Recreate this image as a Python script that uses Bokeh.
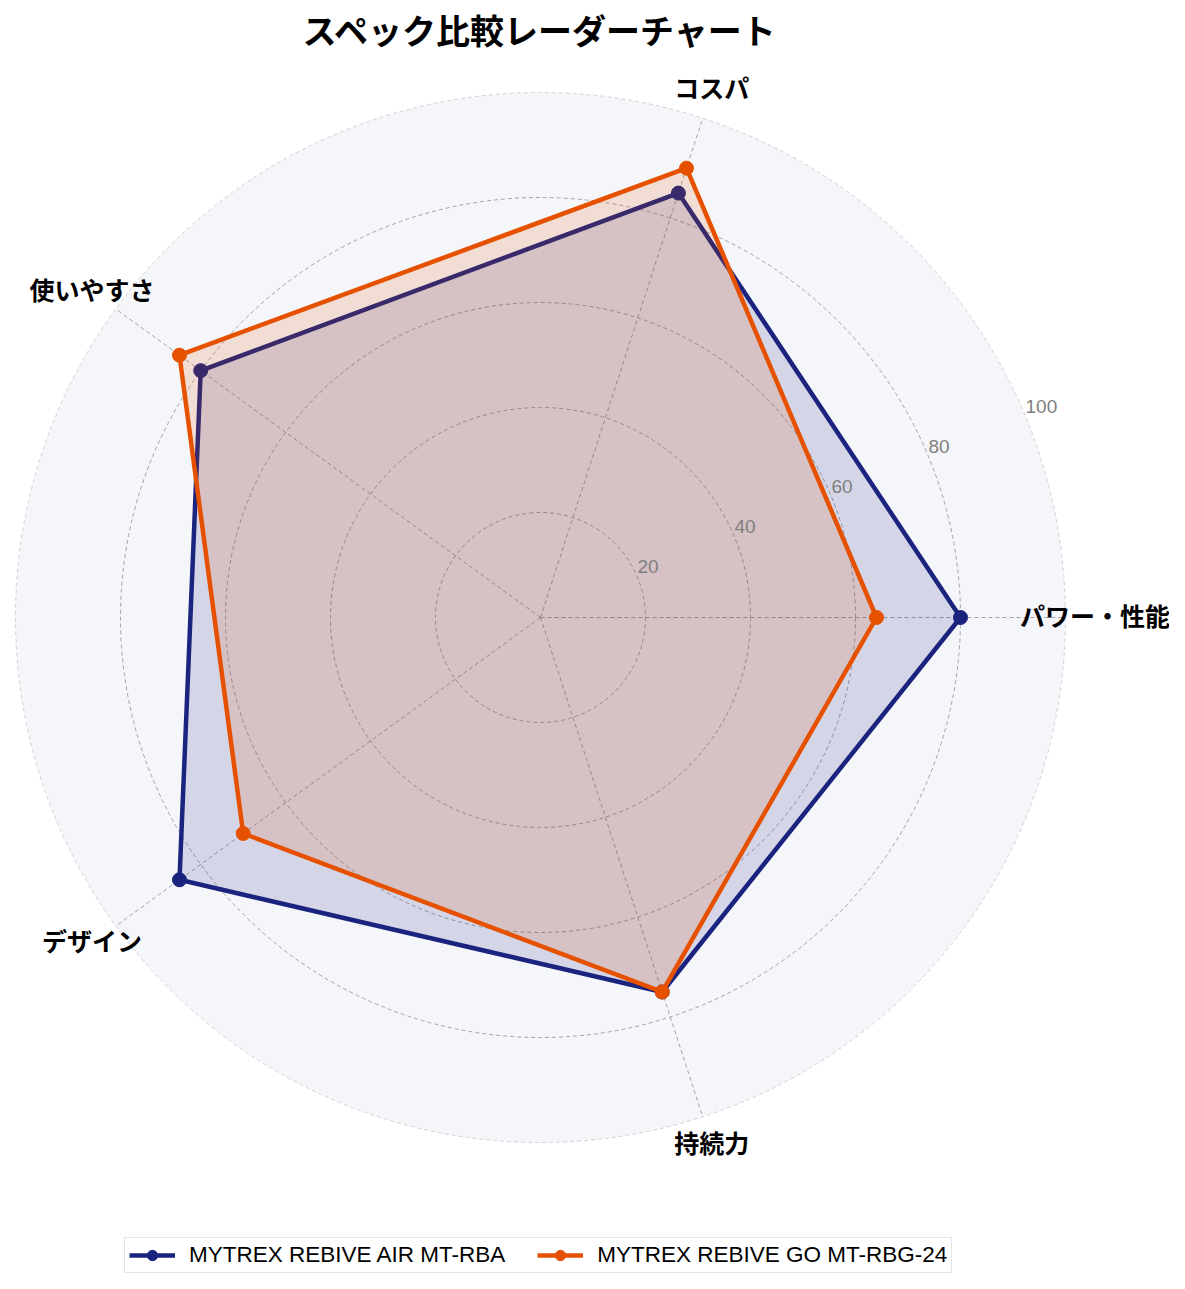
import numpy as np
from bokeh.plotting import figure
from bokeh.models import Legend, LegendItem, Range1d
from bokeh.core.properties import value
from bokeh.embed import file_html
from bokeh.resources import INLINE

# ---- data ----
title_text = "スペック比較レーダーチャート"
categories = ["パワー・性能", "コスパ", "使いやすさ", "デザイン", "持続力"]
series_names = ["MYTREX REBIVE AIR MT-RBA", "MYTREX REBIVE GO MT-RBG-24"]
air_values = [80, 85, 80, 85, 75]
go_values = [64, 90, 85, 70, 75]
ring_ticks = [20, 40, 60, 80, 100]
ring_labels = ["20", "40", "60", "80", "100"]

colors = ["#1a237e", "#e65100"]
r_max = 100

# ---- geometry ----
W, H = 1169, 1273
scale = 5.25  # px per unit
cx, cy = 540, 617  # center in figure px (from top-left)

p = figure(width=W, height=H, output_backend="svg", toolbar_location=None,
           x_axis_type=None, y_axis_type=None, min_border=0,
           x_range=Range1d(-cx / scale, (W - cx) / scale),
           y_range=Range1d(-(H - cy) / scale, cy / scale))
p.outline_line_color = None
p.grid.visible = False
p.background_fill_color = "white"

n = len(categories)
theta = np.arange(n) * 2 * np.pi / n

# background disc
p.circle(x=[0], y=[0], radius=[r_max], fill_color="#f5f6fa", line_color="#c8c8cc",
         line_width=0.8, line_dash="4 3")
# rings
p.circle(x=[0] * 4, y=[0] * 4, radius=ring_ticks[:-1], fill_color=None,
         line_color="#999999", line_width=0.9, line_dash="4 3")
# spokes
p.segment(x0=[0] * n, y0=[0] * n, x1=list(r_max * np.cos(theta)), y1=list(r_max * np.sin(theta)),
          line_color="#999999", line_width=0.9, line_dash="4 3")

items = []
for name, vals, col in zip(series_names, [air_values, go_values], colors):
    v = np.array(vals, dtype=float)
    xs = v * np.cos(theta)
    ys = v * np.sin(theta)
    p.patch(x=list(xs), y=list(ys), fill_color=col, fill_alpha=0.15, line_color=None)
    xl = list(xs) + [xs[0]]
    yl = list(ys) + [ys[0]]
    lr = p.line(x=xl, y=yl, line_color=col, line_width=4.5, line_join="round")
    sr = p.scatter(x=list(xs), y=list(ys), size=14, fill_color=col, line_color=col)
    items.append(LegendItem(label=name, renderers=[lr, sr]))

# radial tick labels
ang = np.deg2rad(22.5)
p.text(x=[r * np.cos(ang) for r in ring_ticks], y=[r * np.sin(ang) for r in ring_ticks],
       text=ring_labels, text_align="left", text_baseline="bottom", y_offset=-4,
       text_font=value("Liberation Sans"), text_font_size="19px", text_color="#808080")

# category labels
lab_r = 105.6
p.text(x=list(lab_r * np.cos(theta)), y=list(lab_r * np.sin(theta)), text=categories,
       text_align="center", text_baseline="middle", y_offset=-3,
       text_font=value("Noto Sans CJK JP"),
       text_font_style="bold", text_font_size="25px", text_color="black")

# title
p.text(x=[0], y=[(cy - 29) / scale], text=[title_text], text_align="center", text_baseline="middle",
       text_font=value("Noto Sans CJK JP"), text_font_style="bold", text_font_size="34px",
       text_color="black")

legend = Legend(items=items, location=(124, 0), orientation="horizontal",
                label_text_font="Liberation Sans", label_text_font_size="22.5px",
                label_text_color="black",
                glyph_width=46, glyph_height=26, label_standoff=14, spacing=32,
                padding=4, margin=0, border_line_color="#cccccc", border_line_width=1.5,
                background_fill_alpha=0.9)
p.add_layout(legend)

open("out.html", "w").write(file_html(p, INLINE))
